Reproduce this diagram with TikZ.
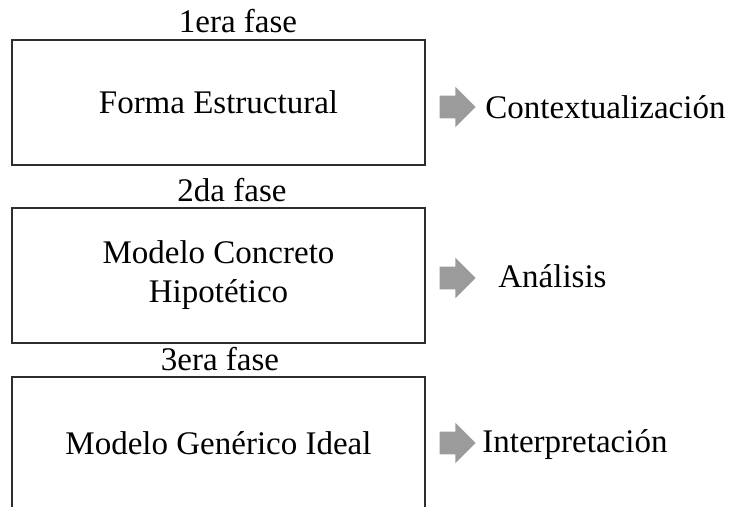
\documentclass[tikz,border=0pt]{standalone}
\usepackage{fontspec}
\setmainfont{Liberation Serif}
\usetikzlibrary{shapes.arrows,positioning}
\definecolor{ArrowG}{RGB}{155,155,155}
\definecolor{LineD} {RGB}{45, 45, 45}

\begin{document}
\begin{tikzpicture}[x=0.5pt,y=-0.5pt,
    fasebox/.style={draw=LineD,line width=1pt,minimum width=206.5pt,
      inner sep=0pt,align=center,font=\fontsize{16.5}{19.5}\selectfont},
    fasetag/.style={anchor=base,inner sep=0pt,font=\fontsize{16.5}{19.5}\selectfont},
    grayarrow/.style={single arrow,fill=ArrowG,draw=none,inner xsep=0pt,inner ysep=5.5pt,
      minimum height=18pt,single arrow head extend=4.5pt},
    fasefin/.style={anchor=west,inner sep=0pt,font=\fontsize{16.5}{19.5}\selectfont}]
        \useasboundingbox (0,0) rectangle (732,507);
        \clip (0,0) rectangle (732,507);
        % phase boxes
        \node[fasebox,minimum height=62.5pt] (fase1) at (218.5,102.5) {Forma Estructural};
        \node[fasebox,minimum height=67.5pt] (fase2) at (218.5,275.5) {Modelo Concreto\\Hipot\'etico};
        \node[fasebox,minimum height=66pt] (fase3) at (218.5,443) {Modelo Gen\'erico Ideal};
        \node[fasetag] (tag1) at (238,33) {1era fase};
        \node[fasetag] (tag2) at (232,202) {2da fase};
        \node[fasetag] (tag3) at (220,370) {3era fase};
        % arrows and results
        \node[grayarrow] (arr1) at (452,107) {};
        \node[grayarrow] (arr2) at (452,278) {};
        \node[grayarrow] (arr3) at (452,443) {};
        \node[fasefin] (res1) at (485,107) {Contextualizaci\'on};
        \node[fasefin] (res2) at (498,276) {An\'alisis};
        \node[fasefin] (res3) at (482,445) {Interpretaci\'on};
      \end{tikzpicture}
\end{document}
